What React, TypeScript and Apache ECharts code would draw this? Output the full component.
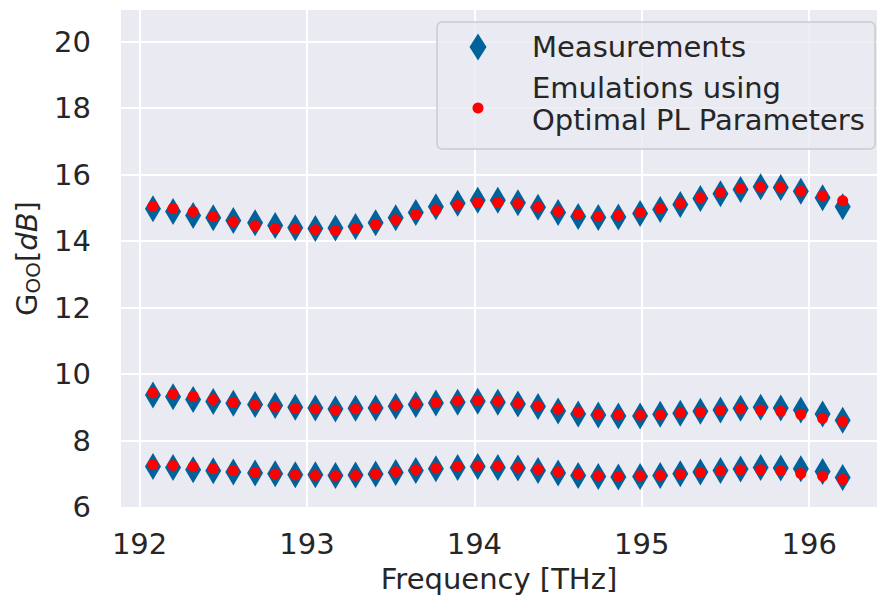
import React, { useEffect, useRef } from "react";
import * as echarts from "echarts";

const freqs = [
  192.08, 192.20, 192.32, 192.44, 192.56, 192.69, 192.81, 192.93, 193.05, 193.17,
  193.29, 193.41, 193.53, 193.65, 193.77, 193.90, 194.02, 194.14, 194.26, 194.38,
  194.50, 194.62, 194.74, 194.86, 194.99, 195.11, 195.23, 195.35, 195.47, 195.59,
  195.71, 195.83, 195.95, 196.08, 196.20,
];

const measTop = [
  14.97, 14.89, 14.77, 14.70, 14.62, 14.55, 14.47, 14.40, 14.38, 14.39,
  14.44, 14.55, 14.70, 14.86, 15.03, 15.14, 15.23, 15.23, 15.15, 15.02,
  14.86, 14.74, 14.71, 14.72, 14.83, 14.95, 15.10, 15.28, 15.42, 15.55,
  15.63, 15.61, 15.50, 15.30, 15.03,
];
const emuTop = [
  15.05, 14.98, 14.88, 14.73, 14.58, 14.46, 14.38, 14.36, 14.34, 14.31,
  14.38, 14.50, 14.64, 14.80, 14.94, 15.08, 15.16, 15.17, 15.13, 15.02,
  14.89, 14.80, 14.74, 14.77, 14.86, 14.98, 15.13, 15.30, 15.45, 15.58,
  15.62, 15.61, 15.50, 15.36, 15.21,
];
const measMid = [
  9.37, 9.32, 9.23, 9.17, 9.12, 9.08, 9.05, 9.00, 8.98, 8.95,
  8.97, 8.98, 9.03, 9.08, 9.13, 9.15, 9.18, 9.15, 9.10, 9.02,
  8.89, 8.80, 8.77, 8.74, 8.74, 8.79, 8.82, 8.88, 8.92, 8.97,
  9.00, 8.98, 8.92, 8.80, 8.61,
];
const emuMid = [
  9.43, 9.40, 9.33, 9.23, 9.14, 9.07, 9.01, 8.97, 8.95, 8.92,
  8.95, 8.98, 9.05, 9.11, 9.14, 9.19, 9.20, 9.18, 9.12, 9.04,
  8.94, 8.86, 8.79, 8.77, 8.76, 8.77, 8.83, 8.86, 8.91, 8.95,
  8.92, 8.88, 8.79, 8.67, 8.57,
];
const measLow = [
  7.22, 7.19, 7.12, 7.09, 7.05, 7.02, 7.00, 6.97, 6.97, 6.95,
  6.96, 6.99, 7.04, 7.10, 7.15, 7.19, 7.22, 7.19, 7.17, 7.10,
  7.02, 6.95, 6.92, 6.90, 6.92, 6.95, 7.00, 7.05, 7.10, 7.14,
  7.19, 7.17, 7.15, 7.07, 6.89,
];
const emuLow = [
  7.27, 7.25, 7.21, 7.15, 7.09, 7.04, 6.99, 6.96, 6.95, 6.94,
  6.95, 6.99, 7.06, 7.12, 7.17, 7.22, 7.23, 7.23, 7.19, 7.13,
  7.06, 6.99, 6.94, 6.92, 6.94, 6.95, 6.99, 7.04, 7.08, 7.12,
  7.12, 7.09, 7.01, 6.93, 6.83,
];

const legendLabels = ["Measurements", "Emulations using\nOptimal PL Parameters"];
const xTitle = "Frequency [THz]";

const FONT = "DejaVu Sans";
const TXT = "#262626";
const BLUE = "#00629B";
const RED = "#FF0000";

const pairs = (ys: number[]) => freqs.map((f, i) => [f, ys[i]]);

export default function App() {
  const ref = useRef<HTMLDivElement>(null);
  useEffect(() => {
    if (!ref.current) return;
    const chart = echarts.init(ref.current, null, { renderer: "svg" });
    const meas = (name: string, ys: number[]) => ({
      type: "scatter",
      name,
      data: pairs(ys),
      symbol: "diamond",
      symbolSize: [16, 27],
      itemStyle: { color: BLUE, opacity: 1 },
      z: 2,
    });
    const emu = (name: string, ys: number[]) => ({
      type: "scatter",
      name,
      data: pairs(ys),
      symbol: "circle",
      symbolSize: 11,
      itemStyle: { color: RED, opacity: 1 },
      z: 3,
    });
    chart.setOption({
      animation: false,
      backgroundColor: "#ffffff",
      grid: {
        left: 121,
        top: 10,
        right: -14,
        bottom: 97,
        show: true,
        backgroundColor: "#EAEAF2",
        borderWidth: 0,
      },
      xAxis: {
        type: "value",
        min: 191.889,
        max: 196.405,
        name: xTitle,
        nameLocation: "middle",
        nameGap: 57,
        nameTextStyle: { fontFamily: FONT, fontSize: 29, color: TXT },
        axisLine: { show: false },
        axisTick: { show: false },
        axisLabel: {
          fontFamily: FONT,
          fontSize: 29,
          color: TXT,
          margin: 22,
          showMinLabel: false,
          showMaxLabel: false,
        },
        splitLine: {
          show: true,
          showMinLine: false,
          showMaxLine: false,
          lineStyle: { color: "#ffffff", width: 2 },
        },
      },
      yAxis: {
        type: "value",
        min: 6,
        max: 20.95,
        interval: 2,
        name: "{g|G}{s|OO}{n|[}{i|dB}{n|]}",
        nameLocation: "middle",
        nameGap: 76,
        nameTextStyle: {
          fontFamily: FONT,
          fontSize: 29,
          color: TXT,
          rich: {
            g: { fontFamily: FONT, fontSize: 29, color: TXT, lineHeight: 30, verticalAlign: "bottom" },
            s: { fontFamily: FONT, fontSize: 20, color: TXT, lineHeight: 20, verticalAlign: "bottom", padding: [0, 0, -2, 0] },
            n: { fontFamily: FONT, fontSize: 29, color: TXT, lineHeight: 30, verticalAlign: "bottom" },
            i: { fontFamily: FONT, fontSize: 29, fontStyle: "italic", color: TXT, lineHeight: 30, verticalAlign: "bottom" },
          },
        },
        axisLine: { show: false },
        axisTick: { show: false },
        axisLabel: {
          fontFamily: FONT,
          fontSize: 29,
          color: TXT,
          margin: 30,
          showMaxLabel: false,
        },
        splitLine: {
          show: true,
          showMinLine: false,
          showMaxLine: false,
          lineStyle: { color: "#ffffff", width: 2 },
        },
      },
      series: [
        meas("Measurements", measTop),
        meas("Measurements", measMid),
        meas("Measurements", measLow),
        emu("Emulations", emuTop),
        emu("Emulations", emuMid),
        emu("Emulations", emuLow),
      ],
      graphic: [
        {
          type: "rect",
          z: 100,
          zlevel: 0,
          shape: { x: 437, y: 22, width: 438, height: 127, r: 5 },
          style: { fill: "rgba(234,234,242,0.8)", stroke: "#cccccc", lineWidth: 1.5 },
        },
        {
          type: "polygon",
          z: 101,
          shape: { points: [[478, 33.5], [486.5, 47], [478, 60.5], [469.5, 47]] },
          style: { fill: BLUE },
        },
        {
          type: "circle",
          z: 101,
          shape: { cx: 478, cy: 108, r: 5.5 },
          style: { fill: RED },
        },
        {
          type: "text",
          z: 101,
          x: 532,
          y: 47,
          style: {
            text: legendLabels[0],
            fontFamily: FONT,
            fontSize: 29,
            fill: TXT,
            verticalAlign: "middle",
            align: "left",
          },
        },
        {
          type: "text",
          z: 101,
          x: 532,
          y: 104,
          style: {
            text: legendLabels[1],
            fontFamily: FONT,
            fontSize: 29,
            lineHeight: 32,
            fill: TXT,
            verticalAlign: "middle",
            align: "left",
          },
        },
      ],
    });
    return () => chart.dispose();
  }, []);
  return (
    <div
      ref={ref}
      style={{ position: "fixed", left: 0, top: 0, width: 877, height: 604 }}
    />
  );
}
